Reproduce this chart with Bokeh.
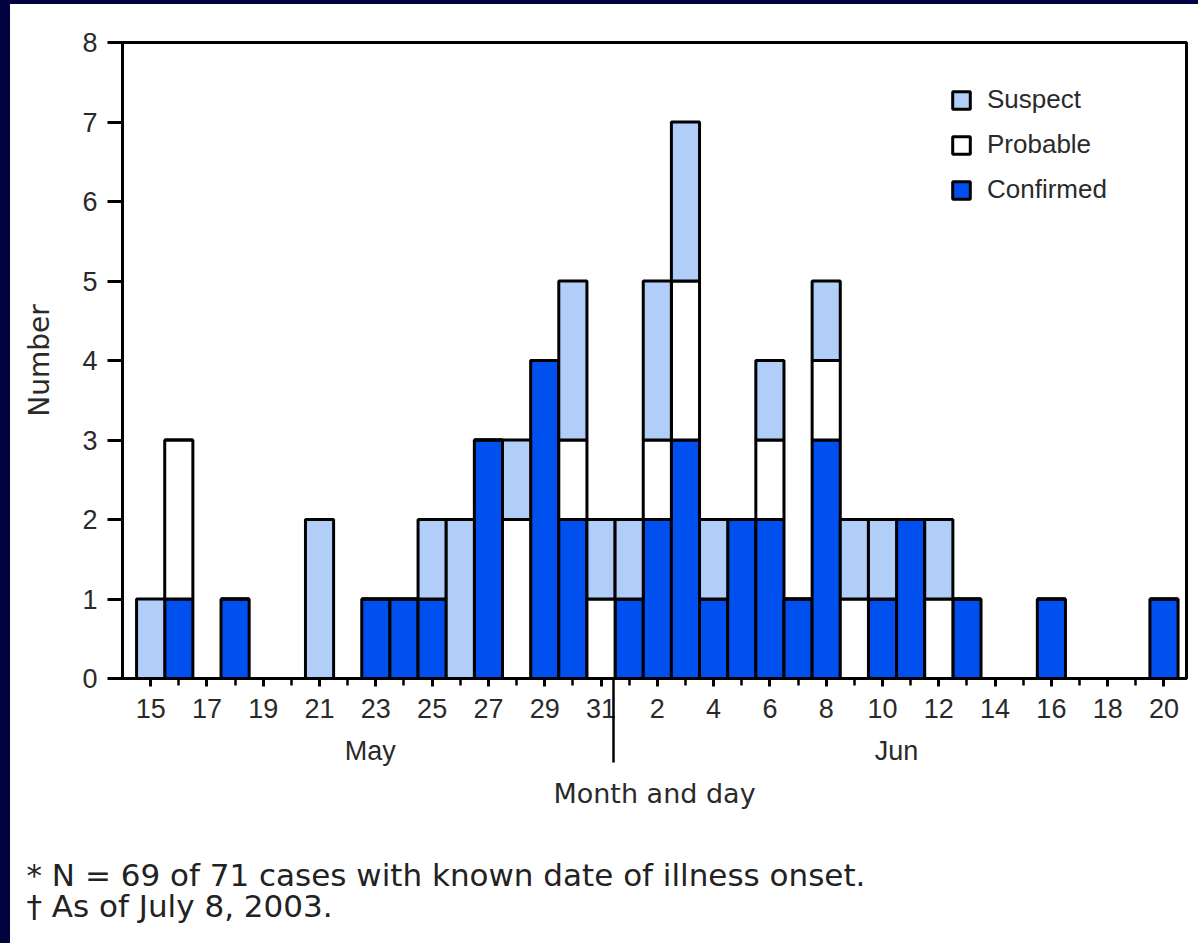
from bokeh.plotting import figure
from bokeh.models import (ColumnDataSource, FixedTicker, LinearAxis, Title,
                          Legend, LegendItem, Range1d)
from bokeh.embed import file_html
from bokeh.resources import INLINE

# ---- data -------------------------------------------------------------
day_labels = ["15", "16", "17", "18", "19", "20", "21", "22", "23", "24",
              "25", "26", "27", "28", "29", "30", "31",
              "1", "2", "3", "4", "5", "6", "7", "8", "9", "10", "11",
              "12", "13", "14", "15", "16", "17", "18", "19", "20"]
month_of_day = ["May"] * 17 + ["Jun"] * 20
confirmed = [0, 1, 0, 1, 0, 0, 0, 0, 1, 1, 1, 0, 3, 0, 4, 2, 0,
             1, 2, 3, 1, 2, 2, 1, 3, 0, 1, 2, 0, 1, 0, 0, 1, 0, 0, 0, 1]
probable = [0, 2, 0, 0, 0, 0, 0, 0, 0, 0, 0, 0, 0, 2, 0, 1, 1,
            0, 1, 2, 0, 0, 1, 0, 1, 1, 0, 0, 1, 0, 0, 0, 0, 0, 0, 0, 0]
suspect = [1, 0, 0, 0, 0, 0, 2, 0, 0, 0, 1, 2, 0, 1, 0, 2, 1,
           1, 2, 2, 1, 0, 1, 0, 1, 1, 1, 0, 1, 0, 0, 0, 0, 0, 0, 0, 0]
series = ["Confirmed", "Probable", "Suspect"]
y_ticks = [0, 1, 2, 3, 4, 5, 6, 7, 8]
month_names = ["May", "Jun"]
footnote_1 = "* N = 69 of 71 cases with known date of illness onset."
footnote_2 = "\u2020 As of July 8, 2003."

# ---- styling ------------------------------------------------------------
NAVY = "#020240"
BLUE = "#0050F0"
LIGHT = "#B0CEF8"
TXT = "#2a2a2a"
FONT = "Liberation Sans"
FONT2 = "DejaVu Sans"

x = list(range(len(day_labels)))
src = ColumnDataSource(dict(x=x, Confirmed=confirmed, Probable=probable,
                            Suspect=suspect))

p = figure(width=1198, height=943, x_range=Range1d(-1.0, 36.8),
           y_range=Range1d(0, 8), output_backend="svg",
           toolbar_location=None, min_border_left=112, min_border_right=22,
           min_border_top=38, min_border_bottom=269)
p.styles = {"border-left": f"10px solid {NAVY}",
            "border-top": f"4px solid {NAVY}"}
p.background_fill_color = "white"
p.border_fill_color = "white"
p.outline_line_color = "black"
p.outline_line_width = 3
p.grid.visible = False

rs = p.vbar_stack(series, x="x", width=1.0, source=src,
                  fill_color=[BLUE, "white", LIGHT], line_color="black",
                  line_width=3)

# y axis
ya = p.yaxis[0]
ya.ticker = FixedTicker(ticks=y_ticks)
ya.axis_line_width = 3
ya.major_tick_line_width = 3
ya.major_tick_out = 15
ya.major_tick_in = 0
ya.minor_tick_out = 0
ya.minor_tick_in = 0
ya.major_label_text_font = FONT
ya.major_label_text_font_size = "27px"
ya.major_label_text_color = TXT
ya.major_label_standoff = 10
ya.axis_label = "Number"
ya.axis_label_text_font = FONT2
ya.axis_label_text_font_size = "28px"
ya.axis_label_text_font_style = "normal"
ya.axis_label_text_color = TXT
ya.axis_label_standoff = 23

# x axis (days)
xa = p.xaxis[0]
xa.ticker = FixedTicker(ticks=[i for i in x if i % 2 == 0], minor_ticks=x)
xa.major_label_overrides = {i: day_labels[i] for i in x if i % 2 == 0}
xa.axis_line_width = 3
xa.major_tick_line_width = 3
xa.minor_tick_line_width = 2.5
xa.major_tick_out = 8
xa.major_tick_in = 0
xa.minor_tick_out = 7
xa.minor_tick_in = 0
xa.major_label_text_font = FONT
xa.major_label_text_font_size = "27px"
xa.major_label_text_color = TXT
xa.major_label_standoff = 12

# second x axis: month names, month separator, axis title
may_pos = 7.8
jun_pos = 26.5
sep_pos = 16.44
ax2 = LinearAxis(ticker=FixedTicker(ticks=[may_pos, jun_pos], minor_ticks=[sep_pos]),
                 major_label_overrides={may_pos: month_names[0], jun_pos: month_names[1]})
ax2.axis_line_color = None
ax2.major_tick_line_color = None
ax2.major_tick_out = 0
ax2.major_tick_in = 0
ax2.minor_tick_line_color = "black"
ax2.minor_tick_line_width = 2.5
ax2.minor_tick_in = 43
ax2.minor_tick_out = 42
ax2.major_label_text_font = FONT
ax2.major_label_text_font_size = "27px"
ax2.major_label_text_color = TXT
ax2.major_label_standoff = -27
ax2.axis_label = "Month and day"
ax2.axis_label_text_font = FONT2
ax2.axis_label_text_font_size = "27px"
ax2.axis_label_text_font_style = "normal"
ax2.axis_label_text_color = TXT
ax2.axis_label_standoff = 9
p.add_layout(ax2, "below")

# legend
legend = Legend(items=[LegendItem(label=series[2], renderers=[rs[2]]),
                       LegendItem(label=series[1], renderers=[rs[1]]),
                       LegendItem(label=series[0], renderers=[rs[0]])],
                location=(828, 473))
legend.background_fill_alpha = 0
legend.border_line_color = None
legend.padding = 0
legend.margin = 0
legend.glyph_width = 22
legend.glyph_height = 22
legend.label_height = 22
legend.spacing = 14
legend.label_standoff = 15
legend.label_text_font = FONT
legend.label_text_font_size = "26px"
legend.label_text_color = TXT
p.add_layout(legend)

# footnotes (a blank spacer title first, then the two note lines)
spacer = Title(text=" ", standoff=30, text_font_size="10px")
t1 = Title(text=footnote_1, align="left", offset=-96, standoff=0,
           text_font=FONT2, text_font_size="31px", text_font_style="normal",
           text_color="#222222")
t2 = Title(text=footnote_2, align="left", offset=-96, standoff=-14,
           text_font=FONT2, text_font_size="31px", text_font_style="normal",
           text_color="#222222")
p.add_layout(spacer, "below")
p.add_layout(t1, "below")
p.add_layout(t2, "below")

open("out.html", "w").write(file_html(p, INLINE))
